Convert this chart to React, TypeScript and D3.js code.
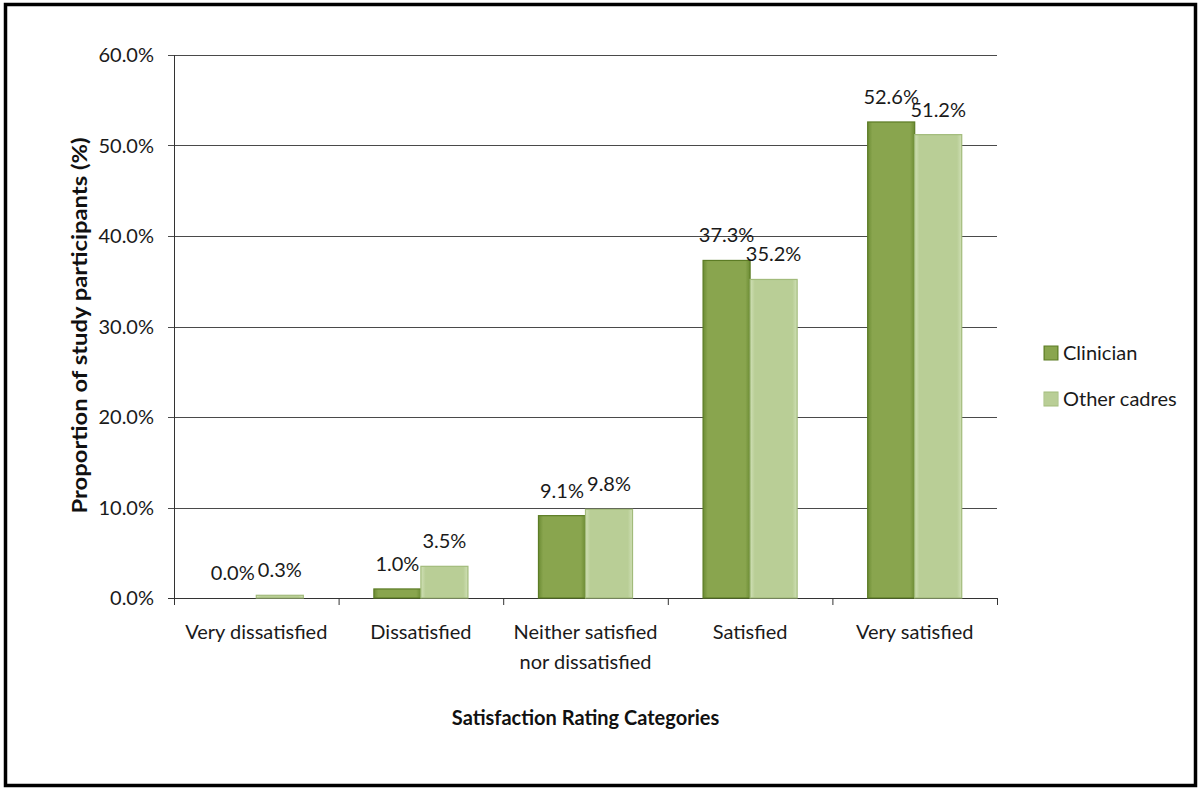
import React from "react";
import * as d3 from "d3";

// Satisfaction rating categories (x axis)
const categories: string[][] = [
  ["Very dissatisfied"],
  ["Dissatisfied"],
  ["Neither satisfied", "nor dissatisfied"],
  ["Satisfied"],
  ["Very satisfied"],
];

// Series names and their percentages per category
const seriesNames = ["Clinician", "Other cadres"];
const clinicianValues = [0.0, 1.0, 9.1, 37.3, 52.6];
const otherCadresValues = [0.3, 3.5, 9.8, 35.2, 51.2];

// Y axis ticks
const yTicks = [0, 10, 20, 30, 40, 50, 60];

const yTitle = "Proportion  of study participants (%)";
const xTitle = "Satisfaction Rating Categories";

const W = 1202;
const H = 789;
const FONT = "Lato, Calibri, 'Open Sans', sans-serif";
const LABEL_SIZE = 20;

const seriesColors = [
  { fill: "#89a54e", stroke: "#5c7c25", edge: "#6c8c34" },
  { fill: "#b9ce96", stroke: "#a2bb7b", edge: "#d0e0b6" },
];

export default function App() {
  const plot = { left: 174, right: 997, top: 55, bottom: 598 };

  const keys = categories.map((c) => c.join(" "));
  const x0 = d3.scaleBand<string>().domain(keys).range([plot.left, plot.right]).padding(0);
  const bw = x0.bandwidth();
  const gapWidth = 1.5; // gap between groups relative to one bar
  const barW = bw / (seriesNames.length + gapWidth);
  const groupOffset = (bw - barW * seriesNames.length) / 2;
  const x1 = d3
    .scaleBand<string>()
    .domain(seriesNames)
    .range([groupOffset, groupOffset + barW * seriesNames.length])
    .padding(0);

  const y = d3.scaleLinear().domain([0, 60]).range([plot.bottom, plot.top]);
  const seriesValues = [clinicianValues, otherCadresValues];
  const fmt = (v: number) => `${v.toFixed(1)}%`;

  const boundaries = [...keys.map((k) => x0(k)!), plot.right];

  return (
    <svg
      width={W}
      height={H}
      style={{ position: "absolute", left: 0, top: 0, background: "#fff" }}
      fontFamily={FONT}
    >
      <defs>
        {seriesColors.map((c, i) => (
          <linearGradient key={i} id={`bar-grad-${i}`} x1="0" x2="1" y1="0" y2="0">
            <stop offset="0%" stopColor={c.edge} />
            <stop offset="10%" stopColor={c.fill} />
            <stop offset="90%" stopColor={c.fill} />
            <stop offset="100%" stopColor={c.edge} />
          </linearGradient>
        ))}
      </defs>
      <rect x={0} y={0} width={W} height={H} fill="#fff" />
      {/* outer frame */}
      <rect x={5.5} y={4.5} width={1190} height={781} fill="none" stroke="#000" strokeWidth={3.5} />

      {/* gridlines and y ticks */}
      {yTicks.map((t) => (
        <g key={t}>
          <line
            x1={plot.left - 6}
            x2={plot.right}
            y1={Math.round(y(t)) + 0.5}
            y2={Math.round(y(t)) + 0.5}
            stroke={t === 0 ? "#333" : "#4a4a4a"}
            strokeWidth={1}
          />
          <text x={154} y={y(t) + 7} textAnchor="end" fontSize={LABEL_SIZE} fill="#1a1a1a">
            {fmt(t)}
          </text>
        </g>
      ))}

      {/* y axis line */}
      <line x1={plot.left + 0.5} x2={plot.left + 0.5} y1={plot.top} y2={plot.bottom + 7} stroke="#333" />

      {/* category ticks */}
      {boundaries.map((b, i) => (
        <line key={i} x1={b + 0.5} x2={b + 0.5} y1={plot.bottom} y2={plot.bottom + 7} stroke="#333" />
      ))}

      {/* bars */}
      {keys.map((k, ci) => (
        <g key={k} transform={`translate(${x0(k)},0)`}>
          {seriesNames.map((s, si) => {
            const v = seriesValues[si][ci];
            const bx = x1(s)!;
            const by = y(v);
            const h = plot.bottom - by;
            return (
              <g key={s}>
                {h > 0 && (
                  <rect
                    x={bx}
                    y={by}
                    width={barW}
                    height={h}
                    fill={`url(#bar-grad-${si})`}
                    stroke={seriesColors[si].stroke}
                    strokeWidth={1.2}
                  />
                )}
                <text
                  x={bx + barW / 2}
                  y={by - 18}
                  textAnchor="middle"
                  fontSize={LABEL_SIZE}
                  fill="#1a1a1a"
                >
                  {fmt(v)}
                </text>
              </g>
            );
          })}
        </g>
      ))}

      {/* category labels */}
      {categories.map((lines, ci) => (
        <text
          key={ci}
          x={x0(keys[ci])! + bw / 2}
          y={639}
          textAnchor="middle"
          fontSize={LABEL_SIZE}
          fill="#1a1a1a"
        >
          {lines.map((ln, li) => (
            <tspan key={li} x={x0(keys[ci])! + bw / 2} dy={li === 0 ? 0 : 30}>
              {ln}
            </tspan>
          ))}
        </text>
      ))}

      {/* axis titles */}
      <text
        x={(plot.left + plot.right) / 2}
        y={725}
        textAnchor="middle"
        fontSize={20}
        fontWeight="bold"
        fill="#111"
      >
        {xTitle}
      </text>
      <text
        transform={`translate(87,${(plot.top + plot.bottom) / 2 - 1}) rotate(-90)`}
        textAnchor="middle"
        fontSize={20}
        fontWeight="bold"
        fill="#111"
        textLength={376}
        lengthAdjust="spacingAndGlyphs"
      >
        {yTitle}
      </text>

      {/* legend */}
      {seriesNames.map((s, i) => (
        <g key={s} transform={`translate(1044,${346 + i * 46})`}>
          <rect
            x={0}
            y={0}
            width={14}
            height={14}
            fill={`url(#bar-grad-${i})`}
            stroke={seriesColors[i].stroke}
          />
          <text x={19} y={14} fontSize={LABEL_SIZE} fill="#1a1a1a">
            {s}
          </text>
        </g>
      ))}
    </svg>
  );
}
